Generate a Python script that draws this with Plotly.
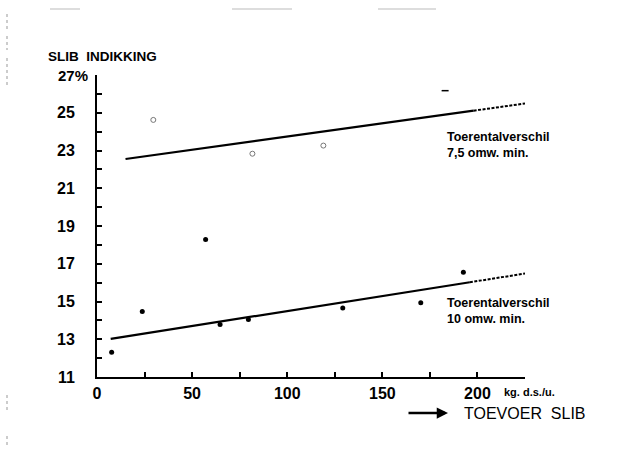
import plotly.graph_objects as go

# ---- data ----
open_x = [29.6, 81.7, 119.0]
open_y = [24.62, 22.83, 23.26]
dash_pt_x = [183.0]
dash_pt_y = [26.17]

dot_x = [7.7, 23.8, 57.1, 64.7, 79.6, 129.2, 170.2, 192.6]
dot_y = [12.31, 14.47, 18.29, 13.78, 14.04, 14.66, 14.93, 16.55]

upper_solid_x = [15.0, 198.0]
upper_solid_y = [22.55, 25.11]
upper_dash_x = [198.0, 225.0]
upper_dash_y = [25.11, 25.49]

lower_solid_x = [7.2, 196.0]
lower_solid_y = [13.02, 16.02]
lower_dash_x = [196.0, 225.0]
lower_dash_y = [16.02, 16.48]

x_ticks = [0, 25, 50, 75, 100, 125, 150, 175, 200, 225]
x_labels = ["0", "", "50", "", "100", "", "150", "", "200", ""]
y_ticks = list(range(11, 28))
y_labels = ["11", "", "13", "", "15", "", "17", "", "19", "", "21", "", "23", "", "25", "", ""]

FONT = "Liberation Sans, Arial, sans-serif"

fig = go.Figure()

fig.add_trace(go.Scatter(x=upper_solid_x, y=upper_solid_y, mode="lines",
                         line=dict(color="black", width=2.2), hoverinfo="skip"))
fig.add_trace(go.Scatter(x=upper_dash_x, y=upper_dash_y, mode="lines",
                         line=dict(color="black", width=2, dash="3px,1.5px"), hoverinfo="skip"))
fig.add_trace(go.Scatter(x=lower_solid_x, y=lower_solid_y, mode="lines",
                         line=dict(color="black", width=2.2), hoverinfo="skip"))
fig.add_trace(go.Scatter(x=lower_dash_x, y=lower_dash_y, mode="lines",
                         line=dict(color="black", width=2, dash="3px,1.5px"), hoverinfo="skip"))

fig.add_trace(go.Scatter(x=open_x, y=open_y, mode="markers",
                         marker=dict(symbol="circle-open", size=5, color="#777777",
                                     line=dict(width=1, color="#777777"))))
fig.add_trace(go.Scatter(x=dash_pt_x, y=dash_pt_y, mode="markers",
                         marker=dict(symbol="line-ew", size=5,
                                     line=dict(width=1.5, color="black"))))
fig.add_trace(go.Scatter(x=dot_x, y=dot_y, mode="markers",
                         marker=dict(symbol="circle", size=5, color="black")))

L, R, T, B = 97, 96, 75, 75
W, H = 621, 452
pw, ph = W - L - R, H - T - B


def px_x(p):
    return (p - L) / pw


def px_y(p):
    return (H - B - p) / ph


annos = [
    dict(text="SLIB  INDIKKING", x=px_x(46), y=px_y(57), xref="paper", yref="paper",
         xanchor="left", yanchor="middle", showarrow=False,
         font=dict(size=13.5, family=FONT, color="black", weight="bold")),
    dict(text="27%", x=px_x(90), y=27, xref="paper", yref="y",
         xanchor="right", yanchor="middle", showarrow=False,
         font=dict(size=15, family=FONT, color="black", weight="bold")),
    dict(text="Toerentalverschil<br>7,5 omw. min.", x=183, y=23.3, xref="x", yref="y",
         xanchor="left", yanchor="middle", align="left", showarrow=False,
         font=dict(size=12.5, family=FONT, color="black", weight="bold")),
    dict(text="Toerentalverschil<br>10 omw. min.", x=183, y=14.52, xref="x", yref="y",
         xanchor="left", yanchor="middle", align="left", showarrow=False,
         font=dict(size=12.5, family=FONT, color="black", weight="bold")),
    dict(text="kg. d.s./u.", x=px_x(502), y=px_y(392), xref="paper", yref="paper",
         xanchor="left", yanchor="middle", showarrow=False,
         font=dict(size=11, family=FONT, color="black", weight="bold")),
    dict(text="TOEVOER  SLIB", x=px_x(462), y=px_y(413), xref="paper", yref="paper",
         xanchor="left", yanchor="middle", showarrow=False,
         font=dict(size=16, family=FONT, color="black")),
    dict(text="", x=px_x(448), y=px_y(413), xref="paper", yref="paper",
         ax=-41, ay=0, axref="pixel", ayref="pixel", showarrow=True,
         arrowhead=2, arrowsize=0.9, arrowwidth=2.5, arrowcolor="black"),
]

# faint scan artefacts at the top and left edge
shapes = []
for x0, x1 in [(50, 80), (232, 292), (378, 436)]:
    shapes.append(dict(type="line", xref="paper", yref="paper",
                       x0=px_x(x0), x1=px_x(x1), y0=px_y(9), y1=px_y(9),
                       line=dict(color="#bbbbbb", width=1)))
for y0, y1 in [(14, 30), (36, 50), (58, 88), (395, 410), (436, 446)]:
    shapes.append(dict(type="line", xref="paper", yref="paper",
                       x0=px_x(7), x1=px_x(7), y0=px_y(y0), y1=px_y(y1),
                       line=dict(color="#999999", width=1, dash="dot")))

fig.update_layout(
    width=W, height=H,
    margin=dict(l=L, r=R, t=T, b=B),
    paper_bgcolor="white", plot_bgcolor="white",
    showlegend=False,
    annotations=annos,
    shapes=shapes,
    xaxis=dict(range=[0, 225], tickmode="array", tickvals=x_ticks, ticktext=x_labels,
               ticks="inside", ticklen=5, tickwidth=1.5, tickcolor="black",
               showline=True, linewidth=2, linecolor="black",
               showgrid=False, zeroline=False, ticklabelstandoff=1,
               tickfont=dict(size=16, family=FONT, color="black", weight="bold")),
    yaxis=dict(range=[11, 27], tickmode="array", tickvals=y_ticks, ticktext=y_labels,
               ticks="inside", ticklen=5, tickwidth=1.5, tickcolor="black",
               showline=True, linewidth=2, linecolor="black",
               showgrid=False, zeroline=False, ticklabelstandoff=17,
               tickfont=dict(size=16, family=FONT, color="black", weight="bold")),
)

fig.write_html("out.html")
